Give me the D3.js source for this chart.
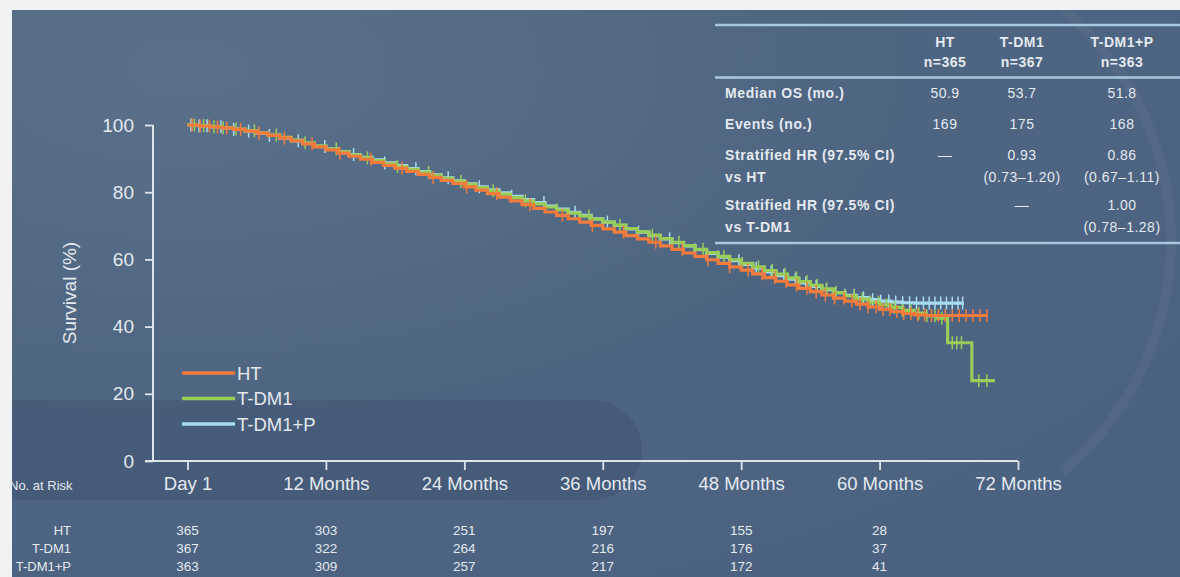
<!DOCTYPE html>
<html>
<head>
<meta charset="utf-8">
<script src="https://cdn.jsdelivr.net/npm/d3@7"></script>
<style>
  html, body { margin: 0; padding: 0; background: #f1f2f3; }
  svg { display: block; }
  text { font-family: "Liberation Sans", Arial, Helvetica, sans-serif; }
</style>
</head>
<body>
<svg id="chart" width="1180" height="577"></svg>
<script>
// ---- Overall survival by arm (months, survival %) ----
const htTimes = d3.range(0, 65).concat([69.4]);
const htSurv = [100,99.7,99.4,99.1,98.7,98.2,97.6,96.9,96.1,95.3,94.4,93.5,92.6,91.6,90.7,89.8,88.9,88.0,87.1,86.2,
  85.3,84.4,83.5,82.6,81.6,80.6,79.6,78.5,77.4,76.3,75.2,74.1,73.1,72.1,71.1,70.1,69.1,68.1,67.1,66.1,
  65.1,64.0,63.0,61.9,60.9,59.9,58.8,57.8,56.8,55.7,54.6,53.5,52.4,51.4,50.4,49.4,48.5,47.6,46.7,45.9,
  45.1,44.5,43.9,43.5,43.3,43.3];

const tdm1Times = d3.range(0, 66).concat([65.9, 68.0, 70.0]);
const tdm1Surv = [100,99.8,99.5,99.2,98.8,98.3,97.7,97.0,96.3,95.5,94.7,93.8,92.9,92.0,91.1,90.2,89.4,88.5,87.6,86.8,
  85.9,85.0,84.1,83.2,82.3,81.4,80.4,79.4,78.4,77.4,76.5,75.6,74.7,73.8,72.9,72.0,71.1,70.2,69.2,68.2,
  67.2,66.2,65.1,64.1,63.0,62.0,60.9,59.9,58.8,57.8,56.7,55.6,54.5,53.4,52.3,51.2,50.1,49.1,48.2,47.3,
  46.5,45.7,44.8,44.0,43.2,42.5,35.2,23.9,23.9];

const tdm1pTimes = d3.range(0, 64).concat([67.3]);
const tdm1pSurv = [100,99.8,99.5,99.1,98.7,98.2,97.6,96.9,96.1,95.3,94.5,93.6,92.8,92.0,91.2,90.4,89.6,88.7,87.9,87.0,
  86.1,85.2,84.3,83.4,82.5,81.6,80.7,79.8,78.8,77.8,76.9,75.9,75.0,74.0,73.1,72.1,71.1,70.1,69.1,68.1,
  67.1,66.1,65.0,64.0,62.9,61.8,60.7,59.6,58.5,57.4,56.3,55.2,54.1,53.0,52.0,51.0,50.1,49.3,48.6,48.0,
  47.6,47.3,47.1,47.0,47.0];

// censoring times (months)
const htCensor = [0.4,1.1,1.9,2.6,3.4,4.6,6.2,8.4,10.8,13.2,15.9,18.6,21.3,24.2,26.8,29.7,32.5,35.1,37.8,40.6,
  42.9,45.1,47.0,48.6,49.8,50.9,51.9,52.8,53.7,54.5,55.3,56.1,56.9,57.6,58.3,59.0,59.7,60.3,60.9,61.5,
  62.1,62.7,63.3,63.9,64.5,65.1,65.7,66.3,66.9,67.5,68.1,68.7,69.3];
const tdm1Censor = [0.6,1.4,2.3,3.1,4.2,5.8,7.7,10.2,12.9,15.6,18.2,20.9,23.7,26.5,29.3,32.0,34.8,37.5,40.3,42.6,
  44.7,46.5,48.1,49.5,50.7,51.8,52.8,53.7,54.6,55.4,56.2,57.0,57.8,58.5,59.2,59.9,60.6,61.3,62.0,62.7,
  63.4,64.1,64.8,65.4,66.3,66.7,67.1,68.6,69.3];
const tdm1pCensor = [0.3,1.0,1.7,2.9,4.0,5.3,7.1,9.6,11.9,14.4,17.1,19.8,22.6,25.3,28.1,30.9,33.6,36.4,39.1,41.8,
  44.0,46.0,47.8,49.3,50.6,51.7,52.7,53.6,54.5,55.4,56.2,57.0,57.8,58.6,59.4,60.1,60.8,61.4,62.0,62.6,
  63.2,63.8,64.3,64.8,65.3,65.8,66.3,66.8,67.2];

const armNames = ["HT", "T-DM1", "T-DM1+P"];
const armColors = ["#f27b3d", "#98cd57", "#a6dcef"];

// ---- Axis ticks ----
const xTickMonths = [0, 12, 24, 36, 48, 60, 72];
const xTickLabels = ["Day 1", "12 Months", "24 Months", "36 Months", "48 Months", "60 Months", "72 Months"];
const yTicks = [0, 20, 40, 60, 80, 100];

// ---- Number at risk ----
const riskMonths = [0, 12, 24, 36, 48, 60];
const riskHT = [365, 303, 251, 197, 155, 28];
const riskTDM1 = [367, 322, 264, 216, 176, 37];
const riskTDM1P = [363, 309, 257, 217, 172, 41];

// ---- Summary table ----
const tableHeads = ["HT", "T-DM1", "T-DM1+P"];
const tableN = ["n=365", "n=367", "n=363"];
const rowLabels = [["Median OS (mo.)"], ["Events (no.)"], ["Stratified HR (97.5% CI)", "vs HT"], ["Stratified HR (97.5% CI)", "vs T-DM1"]];
const rowMedian = ["50.9", "53.7", "51.8"];
const rowEvents = ["169", "175", "168"];
const rowHRvsHT = [["\u2014"], ["0.93", "(0.73\u20131.20)"], ["0.86", "(0.67\u20131.11)"]];
const rowHRvsTDM1 = [[""], ["\u2014"], ["1.00", "(0.78\u20131.28)"]];

// ==================================================================
const svg = d3.select("#chart");
const W = 1180, H = 577;
const txt = "#e4e9ef";

// panel background
const defs = svg.append("defs");
const bg = defs.append("radialGradient").attr("id", "bgGrad")
  .attr("cx", "0.15").attr("cy", "0.1").attr("r", "1.1");
bg.append("stop").attr("offset", "0").attr("stop-color", "#5a7089");
bg.append("stop").attr("offset", "0.55").attr("stop-color", "#4e6582");
bg.append("stop").attr("offset", "1").attr("stop-color", "#4a6181");
svg.append("rect").attr("x", 12).attr("y", 10).attr("width", W - 12).attr("height", H - 10).attr("fill", "url(#bgGrad)");

// decorative backdrop: faint arc on the right and a darker band behind the lower left
const deco = svg.append("g").attr("pointer-events", "none");
const arc = d3.arc().innerRadius(296).outerRadius(306)
  .startAngle(Math.PI * 0.22).endAngle(Math.PI * 0.78);
deco.append("path").attr("transform", "translate(870,240)").attr("d", arc())
  .attr("fill", "rgba(255,255,255,0.035)");
deco.append("path")
  .attr("d", "M12,400 L592,400 A50,50 0 0 1 592,500 L12,500 Z")
  .attr("fill", "rgba(30,45,68,0.14)");

// scales
const x = d3.scaleLinear().domain([0, 72]).range([187.5, 1018]);
const y = d3.scaleLinear().domain([0, 100]).range([461, 125]);

// axes
const axisColor = "#dde4ec";
const yAxis = svg.append("g").attr("transform", "translate(153,0)")
  .call(d3.axisLeft(y).tickValues(yTicks).tickSize(8).tickPadding(11));
const xAxis = svg.append("g").attr("transform", "translate(0,461)")
  .call(d3.axisBottom(x).tickValues(xTickMonths).tickSize(9).tickPadding(7)
    .tickFormat((d, i) => xTickLabels[i]));
[yAxis, xAxis].forEach(g => {
  g.select(".domain").remove();
  g.selectAll("line").attr("stroke", axisColor).attr("stroke-width", 1.8);
  g.selectAll("text").attr("fill", txt).attr("font-size", 18.5)
    .attr("font-family", "'Liberation Sans', Arial, sans-serif");
});
yAxis.selectAll("text").attr("font-size", 19);
svg.append("line").attr("x1", 153).attr("x2", 153).attr("y1", y(100)).attr("y2", y(0))
  .attr("stroke", axisColor).attr("stroke-width", 2);
svg.append("line").attr("x1", 145).attr("x2", x(72)).attr("y1", y(0)).attr("y2", y(0))
  .attr("stroke", axisColor).attr("stroke-width", 2);

svg.append("text").attr("transform", `translate(76,${y(50)}) rotate(-90)`)
  .attr("text-anchor", "middle").attr("fill", txt).attr("font-size", 19).text("Survival (%)");

// survival curves
const arms = [
  { t: tdm1pTimes, s: tdm1pSurv, c: tdm1pCensor, color: armColors[2] },
  { t: tdm1Times, s: tdm1Surv, c: tdm1Censor, color: armColors[1] },
  { t: htTimes, s: htSurv, c: htCensor, color: armColors[0] }
];
function survAt(a, t) {
  let v = a.s[0];
  for (let i = 0; i < a.t.length; i++) { if (a.t[i] <= t) v = a.s[i]; else break; }
  return v;
}
const line = d3.line().x(d => x(d[0])).y(d => y(d[1])).curve(d3.curveStepAfter);
const curves = svg.append("g");
arms.forEach(a => {
  const g = curves.append("g");
  g.append("path").datum(a.t.map((t, i) => [t, a.s[i]]))
    .attr("d", line).attr("fill", "none").attr("stroke", a.color)
    .attr("stroke-width", 3.2).attr("stroke-linejoin", "miter");
  g.selectAll("line.cens").data(a.c).join("line")
    .attr("x1", d => x(d)).attr("x2", d => x(d))
    .attr("y1", d => y(survAt(a, d)) - 6.5).attr("y2", d => y(survAt(a, d)) + 6.5)
    .attr("stroke", a.color).attr("stroke-width", 1.5);
});

// legend
const legend = svg.append("g");
armNames.forEach((n, i) => {
  const ly = 373 + i * 25.5;
  legend.append("line").attr("x1", 182).attr("x2", 235).attr("y1", ly).attr("y2", ly)
    .attr("stroke", armColors[i]).attr("stroke-width", 3.5);
  legend.append("text").attr("x", 237).attr("y", ly + 6.5).attr("fill", txt)
    .attr("font-size", 18.5).text(n);
});

// number at risk
const narrow = "'Liberation Sans Narrow', 'Arial Narrow', 'Liberation Sans', sans-serif";
svg.append("text").attr("x", 9).attr("y", 490).attr("fill", txt).attr("font-size", 13)
  .attr("font-family", narrow).text("No. at Risk");
const riskRows = [riskHT, riskTDM1, riskTDM1P];
riskRows.forEach((row, r) => {
  const ry = 535 + r * 18;
  svg.append("text").attr("x", 71).attr("y", ry).attr("text-anchor", "end")
    .attr("fill", txt).attr("font-size", 13).attr("font-family", narrow).text(armNames[r]);
  svg.append("g").selectAll("text").data(row).join("text")
    .attr("x", (d, i) => x(riskMonths[i])).attr("y", ry).attr("text-anchor", "middle")
    .attr("fill", txt).attr("font-size", 13.5).attr("font-family", narrow).text(d => d);
});

// summary table
const colX = [945, 1022, 1122];
const tbl = svg.append("g");
const rule = "#a8c8dd";
[25, 77.5, 243].forEach(ly => {
  tbl.append("line").attr("x1", 715).attr("x2", W).attr("y1", ly).attr("y2", ly)
    .attr("stroke", rule).attr("stroke-width", 2.4);
});
tableHeads.forEach((h, i) => {
  tbl.append("text").attr("x", colX[i]).attr("y", 47).attr("text-anchor", "middle")
    .attr("font-weight", "bold").attr("font-size", 14).attr("letter-spacing", 0.5)
    .attr("fill", txt).text(h);
  tbl.append("text").attr("x", colX[i]).attr("y", 67).attr("text-anchor", "middle")
    .attr("font-weight", "bold").attr("font-size", 14).attr("letter-spacing", 0.5)
    .attr("fill", txt).text(tableN[i]);
});
const rowY = [[98], [129], [160, 182], [210, 232]];
rowLabels.forEach((lines, r) => {
  lines.forEach((l, k) => {
    tbl.append("text").attr("x", 725).attr("y", rowY[r][k]).attr("font-weight", "bold")
      .attr("font-size", 14).attr("letter-spacing", 0.6).attr("fill", txt).text(l);
  });
});
const rowVals = [rowMedian.map(v => [v]), rowEvents.map(v => [v]), rowHRvsHT, rowHRvsTDM1];
rowVals.forEach((vals, r) => {
  vals.forEach((cell, c) => {
    cell.forEach((v, k) => {
      tbl.append("text").attr("x", colX[c]).attr("y", rowY[r][k]).attr("text-anchor", "middle")
        .attr("font-size", 14).attr("letter-spacing", 0.5).attr("fill", txt).text(v);
    });
  });
});
</script>
</body>
</html>
